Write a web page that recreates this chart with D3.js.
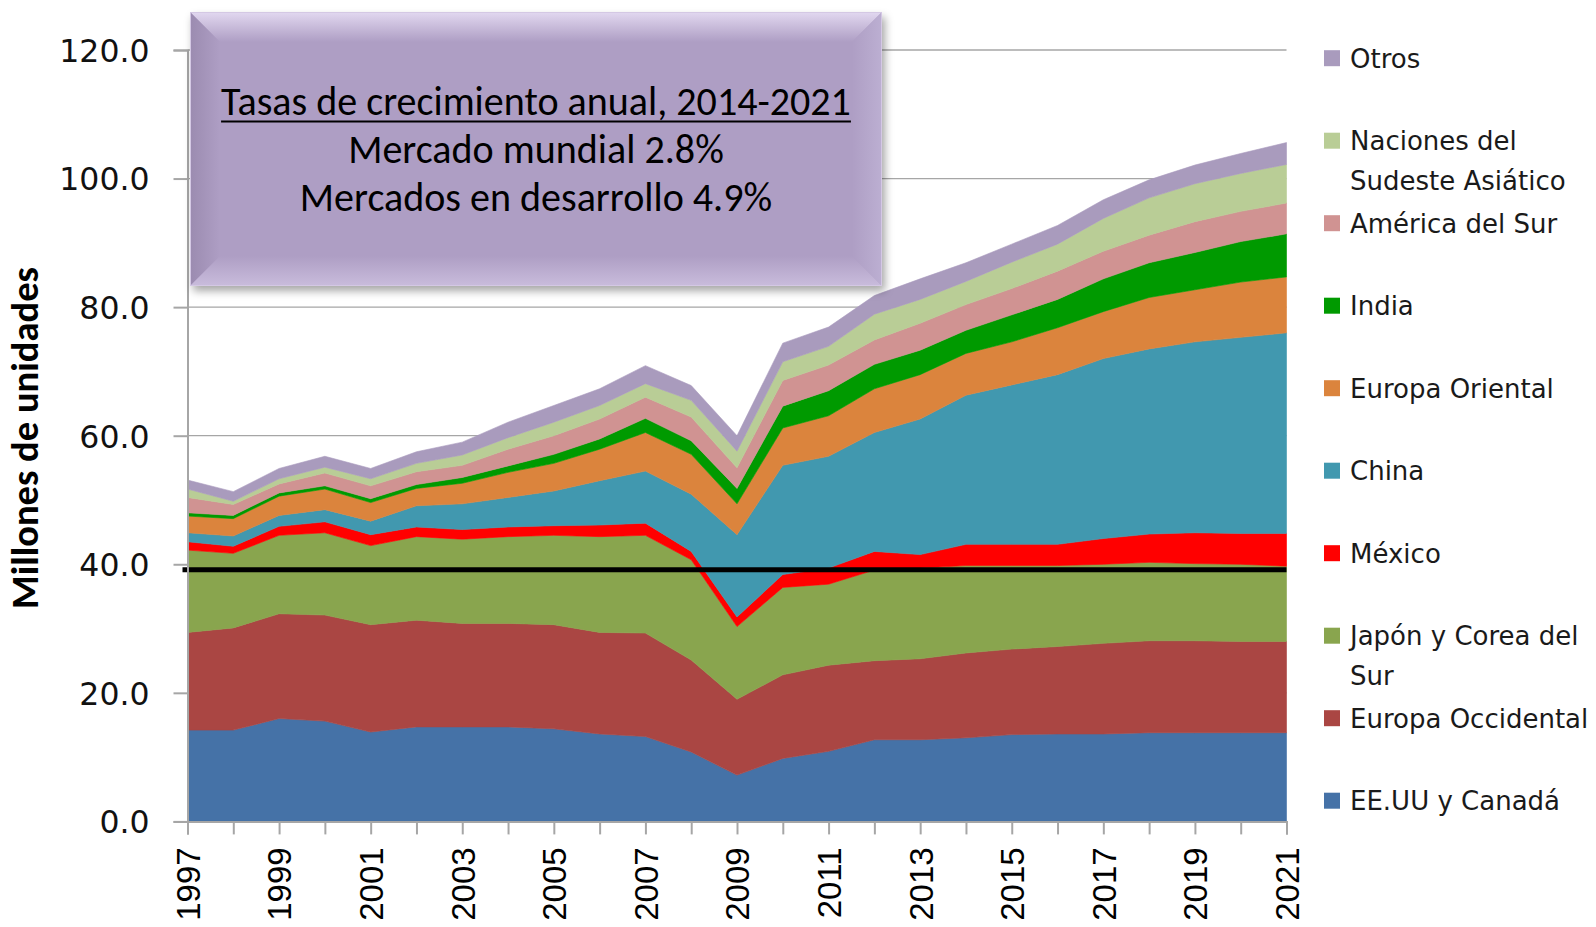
<!DOCTYPE html>
<html>
<head>
<meta charset="utf-8">
<script src="https://cdn.jsdelivr.net/npm/d3@7/dist/d3.min.js"></script>
<style>
  html, body { margin: 0; padding: 0; background: #ffffff; }
  svg { display: block; }
</style>
</head>
<body>
<svg id="chart" width="1596" height="927"></svg>
<script>
// ---------------- DATA ----------------
const years = [1997,1998,1999,2000,2001,2002,2003,2004,2005,2006,2007,2008,2009,2010,2011,2012,2013,2014,2015,2016,2017,2018,2019,2020,2021];
const xTickLabels = ["1997","1999","2001","2003","2005","2007","2009","2011","2013","2015","2017","2019","2021"];
const yTickValues = [0, 20, 40, 60, 80, 100, 120];

// Series (bottom to top), millions of units per year
const eeuuCanada      = [14.2,14.2,16.0,15.6,13.9,14.7,14.7,14.7,14.4,13.6,13.2,10.8, 7.2, 9.8,10.9,12.7,12.7,13.0,13.5,13.6,13.6,13.8,13.8,13.8,13.8];
const europaOccid     = [15.2,15.9,16.3,16.5,16.7,16.6,16.1,16.1,16.2,15.8,16.1,14.3,11.8,13.0,13.4,12.3,12.6,13.2,13.3,13.6,14.1,14.3,14.3,14.2,14.2];
const japonCorea      = [12.8,11.6,12.2,12.8,12.3,13.0,13.1,13.5,13.9,14.9,15.2,15.6,11.3,13.6,12.6,14.1,14.1,13.6,13.0,12.6,12.3,12.2,12.0,12.0,11.7];
const mexico          = [ 1.3, 1.1, 1.4, 1.7, 1.7, 1.5, 1.5, 1.5, 1.5, 1.8, 1.9, 1.3, 1.5, 2.0, 2.5, 2.9, 2.1, 3.3, 3.3, 3.3, 4.0, 4.4, 4.8, 4.8, 5.1];
const china           = [ 1.4, 1.6, 1.7, 1.9, 2.1, 3.3, 4.0, 4.6, 5.4, 6.9, 8.1, 8.9,12.8,17.0,17.4,18.5,21.1,23.2,24.8,26.4,28.0,28.8,29.7,30.5,31.2];
const europaOriental  = [ 2.6, 2.7, 3.0, 3.2, 2.9, 2.7, 3.2, 3.9, 4.3, 4.9, 6.0, 6.2, 4.8, 5.8, 6.3, 6.8, 6.9, 6.5, 6.7, 7.3, 7.3, 8.0, 8.1, 8.6, 8.7];
const india           = [ 0.5, 0.5, 0.5, 0.5, 0.6, 0.6, 0.9, 1.0, 1.4, 1.6, 2.2, 2.1, 2.4, 3.4, 3.9, 3.8, 3.8, 3.6, 4.2, 4.4, 5.1, 5.4, 5.8, 6.3, 6.7];
const americaSur      = [ 2.4, 1.7, 1.4, 2.0, 2.0, 2.0, 1.9, 2.6, 2.9, 3.1, 3.3, 3.7, 3.2, 4.0, 4.0, 3.8, 4.2, 4.0, 4.1, 4.4, 4.3, 4.3, 4.8, 4.7, 4.8];
const sudesteAsiatico = [ 1.3, 0.5, 0.8, 0.9, 1.1, 1.3, 1.6, 1.8, 2.1, 2.1, 2.1, 2.6, 2.6, 2.9, 2.9, 4.0, 3.7, 3.6, 4.1, 4.2, 5.1, 5.8, 5.9, 5.9, 6.0];
const otros           = [ 1.4, 1.5, 1.6, 1.7, 1.6, 1.8, 2.0, 2.4, 2.6, 2.6, 2.8, 2.3, 2.4, 2.9, 3.0, 2.9, 3.2, 2.9, 2.8, 2.9, 2.9, 2.8, 2.9, 3.1, 3.4];

const seriesNames = ["EE.UU y Canadá","Europa Occidental","Japón y Corea del Sur","México","China","Europa Oriental","India","América del Sur","Naciones del Sudeste Asiático","Otros"];
const seriesValues = [eeuuCanada, europaOccid, japonCorea, mexico, china, europaOriental, india, americaSur, sudesteAsiatico, otros];
const seriesColors = ["#4572A7","#AA4643","#89A54E","#FF0000","#4198AF","#DB843D","#009A00","#D09392","#B9CD96","#A99BBD"];

// legend entries, top to bottom (with line breaks as in the reference)
const legendLines = [["Otros"],["Naciones del","Sudeste Asiático"],["América del Sur"],["India"],["Europa Oriental"],["China"],["México"],["Japón y Corea del","Sur"],["Europa Occidental"],["EE.UU y Canadá"]];

const referenceLevel = 39.15;   // black horizontal line
const boxTitle = "Tasas de crecimiento anual, 2014-2021";
const boxLines = ["Mercado mundial 2.8%", "Mercados en desarrollo 4.9%"];
const yAxisTitle = "Millones de unidades";

// ---------------- LAYOUT ----------------
const svg = d3.select("#chart");
const X0 = 187.5, X1 = 1286.5, Y0 = 821.4, Y1 = 50;
const x = d3.scaleLinear().domain([1997, 2021]).range([X0, X1]);
const y = d3.scaleLinear().domain([0, 120]).range([Y0, Y1]);

const table = years.map((yr, i) => {
  const row = { year: yr };
  seriesNames.forEach((n, k) => row[n] = seriesValues[k][i]);
  return row;
});
const stacked = d3.stack().keys(seriesNames).order(d3.stackOrderNone).offset(d3.stackOffsetNone)(table);

const defs = svg.append("defs");

// gridlines
svg.append("g").selectAll("line").data(yTickValues.filter(v => v > 0)).join("line")
  .attr("x1", X0).attr("x2", X1)
  .attr("y1", d => y(d)).attr("y2", d => y(d))
  .attr("stroke", "#a6a6a6").attr("stroke-width", 1.3);

// areas
const area = d3.area()
  .x(d => x(d.data.year))
  .y0(d => y(d[0]))
  .y1(d => y(d[1]))
  .curve(d3.curveLinear);
svg.append("g").selectAll("path").data(stacked).join("path")
  .attr("d", area)
  .attr("fill", (d, i) => seriesColors[i])
  .attr("stroke", (d, i) => seriesColors[i])
  .attr("stroke-width", 0.6);

// black reference line
svg.append("line")
  .attr("x1", X0 - 5).attr("x2", X1)
  .attr("y1", y(referenceLevel)).attr("y2", y(referenceLevel))
  .attr("stroke", "#000").attr("stroke-width", 5);

// axes
const yAxis = d3.axisLeft(y).tickValues(yTickValues).tickSize(14).tickPadding(8).tickFormat(d3.format(".1f"));
const gy = svg.append("g").attr("transform", `translate(${X0},0)`).call(yAxis);
gy.select(".domain").attr("stroke", "#a6a6a6").attr("stroke-width", 2);
gy.selectAll(".tick line").attr("stroke", "#a6a6a6").attr("stroke-width", 2);
gy.selectAll(".tick text")
  .attr("font-family", "'DejaVu Sans', Verdana, sans-serif")
  .attr("font-size", 31.5).attr("fill", "#111").attr("x", -38).attr("dy", "0.36em");

const xAxis = d3.axisBottom(x).tickValues(years).tickSize(13)
  .tickFormat(d => xTickLabels.includes(String(d)) ? String(d) : "");
const gx = svg.append("g").attr("transform", `translate(0,${Y0})`).call(xAxis);
gx.select(".domain").attr("stroke", "#a6a6a6").attr("stroke-width", 2);
gx.selectAll(".tick line").attr("stroke", "#a6a6a6").attr("stroke-width", 2);
gx.selectAll(".tick text")
  .attr("font-family", "'Liberation Sans', Arial, sans-serif")
  .attr("font-size", 33).attr("fill", "#000")
  .attr("transform", "rotate(-90)")
  .attr("text-anchor", "end")
  .attr("x", -26).attr("y", 0).attr("dy", "0.36em");

// y axis title
const yt = svg.append("text")
  .attr("transform", "translate(38,438) rotate(-90)")
  .attr("text-anchor", "middle")
  .attr("font-family", "Carlito, Lato, 'Open Sans', sans-serif")
  .attr("font-weight", "bold").attr("font-size", 34).attr("fill", "#000")
  .text(yAxisTitle);
{
  const w = yt.node().getComputedTextLength();
  yt.attr("font-size", 34 * 342 / w);
}

// ---------------- TEXT BOX ----------------
const bx = 190, by = 12, bw = 692, bh = 274, bev = 30;
const shadow = defs.append("filter").attr("id", "shadow").attr("x", "-10%").attr("y", "-10%").attr("width", "125%").attr("height", "130%");
shadow.append("feDropShadow").attr("dx", 3).attr("dy", 5).attr("stdDeviation", 4).attr("flood-color", "#000").attr("flood-opacity", 0.35);

function grad(id, x1, y1, x2, y2, c1, c2) {
  const g = defs.append("linearGradient").attr("id", id)
    .attr("x1", x1).attr("y1", y1).attr("x2", x2).attr("y2", y2);
  g.append("stop").attr("offset", "0%").attr("stop-color", c1);
  g.append("stop").attr("offset", "100%").attr("stop-color", c2);
}
const mainC = "#AE9EC4";
grad("gTop", 0, 0, 0, 1, "#e2d8f0", mainC);
grad("gLeft", 0, 0, 1, 0, "#9b8bb0", mainC);
grad("gRight", 1, 0, 0, 0, "#bcafd2", mainC);
grad("gBot", 0, 1, 0, 0, "#c9bcdc", mainC);

const box = svg.append("g");
box.append("rect").attr("x", bx).attr("y", by).attr("width", bw).attr("height", bh)
  .attr("fill", mainC).attr("filter", "url(#shadow)");
const L = bx, R = bx + bw, T = by, B = by + bh;
box.append("polygon").attr("points", `${L},${T} ${R},${T} ${R-bev},${T+bev} ${L+bev},${T+bev}`).attr("fill", "url(#gTop)");
box.append("polygon").attr("points", `${L},${T} ${L+bev},${T+bev} ${L+bev},${B-bev} ${L},${B}`).attr("fill", "url(#gLeft)");
box.append("polygon").attr("points", `${R},${T} ${R},${B} ${R-bev},${B-bev} ${R-bev},${T+bev}`).attr("fill", "url(#gRight)");
box.append("polygon").attr("points", `${L},${B} ${L+bev},${B-bev} ${R-bev},${B-bev} ${R},${B}`).attr("fill", "url(#gBot)");
box.append("rect").attr("x", L + 0.5).attr("y", T + 0.5).attr("width", bw - 1).attr("height", bh - 1)
  .attr("fill", "none").attr("stroke", "#d4c8e4").attr("stroke-width", 1);

const cx = 536;
const boxFont = "Carlito, Lato, 'Open Sans', sans-serif";
const t1 = box.append("text").attr("x", cx).attr("y", 115).attr("text-anchor", "middle")
  .attr("font-family", boxFont).attr("font-size", 36).attr("fill", "#000").text(boxTitle);
const w1 = t1.node().getComputedTextLength();
const fs = 36 * 630 / w1;
t1.attr("font-size", fs);
const w1b = t1.node().getComputedTextLength();
box.append("line").attr("x1", cx - w1b / 2).attr("x2", cx + w1b / 2)
  .attr("y1", 121.5).attr("y2", 121.5).attr("stroke", "#000").attr("stroke-width", 2);
box.append("text").attr("x", cx).attr("y", 163).attr("text-anchor", "middle")
  .attr("font-family", boxFont).attr("font-size", fs).attr("fill", "#000").text(boxLines[0]);
box.append("text").attr("x", cx).attr("y", 210.5).attr("text-anchor", "middle")
  .attr("font-family", boxFont).attr("font-size", fs).attr("fill", "#000").text(boxLines[1]);

// ---------------- LEGEND ----------------
const legendColors = seriesColors.slice().reverse();
const lg = svg.append("g");
legendLines.forEach((lines, i) => {
  const cy = 58.2 + i * 82.5;
  lg.append("rect").attr("x", 1324).attr("y", cy - 8).attr("width", 16).attr("height", 16)
    .attr("fill", legendColors[i]);
  lines.forEach((ln, j) => {
    lg.append("text").attr("x", 1350).attr("y", cy + j * 39.5).attr("dy", "0.36em")
      .attr("font-family", "'DejaVu Sans', Verdana, sans-serif").attr("font-size", 26)
      .attr("fill", "#1a1a1a").text(ln);
  });
});
</script>
</body>
</html>
